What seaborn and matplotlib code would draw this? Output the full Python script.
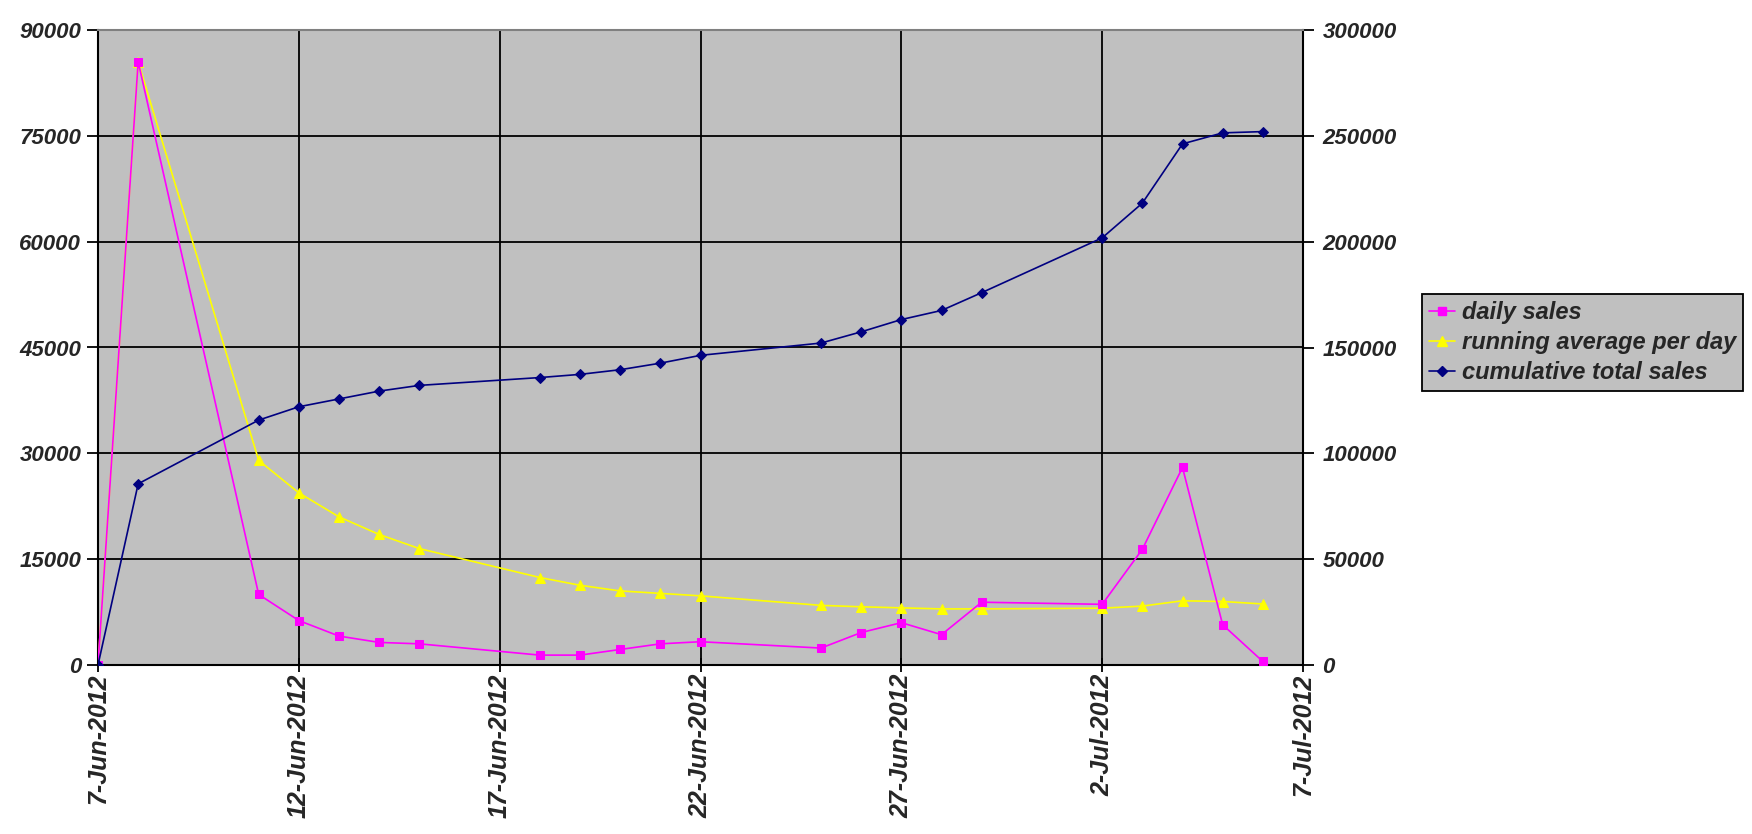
import matplotlib
matplotlib.use("Agg")
import matplotlib.pyplot as plt
import matplotlib.dates as mdates
from matplotlib.lines import Line2D
import seaborn as sns
import pandas as pd

dates = ["2012-06-07", "2012-06-08", "2012-06-11", "2012-06-12", "2012-06-13",
         "2012-06-14", "2012-06-15", "2012-06-18", "2012-06-19", "2012-06-20",
         "2012-06-21", "2012-06-22", "2012-06-25", "2012-06-26", "2012-06-27",
         "2012-06-28", "2012-06-29", "2012-07-02", "2012-07-03", "2012-07-04",
         "2012-07-05", "2012-07-06"]
daily_sales = [0, 85500, 10000, 6300, 4100, 3200, 3000, 1400, 1400, 2200,
               3000, 3300, 2400, 4600, 6000, 4300, 8900, 8600, 16400, 28000,
               5700, 500]
running_avg = [0, 85500, 29000, 24400, 21000, 18500, 16500, 12400, 11300, 10500,
               10150, 9800, 8450, 8250, 8100, 7950, 7950, 8050, 8350, 9100,
               9000, 8650]
cumulative = [0, 85600, 115700, 122000, 125700, 129400, 132100, 135800, 137300,
              139500, 142600, 146300, 152100, 157400, 163200, 167500, 175900,
              201800, 218200, 246200, 251400, 252000]
labels = ["daily sales", "running average per day", "cumulative total sales"]
left_ticks = [0, 15000, 30000, 45000, 60000, 75000, 90000]
right_ticks = [0, 50000, 100000, 150000, 200000, 250000, 300000]
x_ticks = ["2012-06-07", "2012-06-12", "2012-06-17", "2012-06-22",
           "2012-06-27", "2012-07-02", "2012-07-07"]

df = pd.DataFrame({"date": pd.to_datetime(dates), "daily": daily_sales,
                   "avg": running_avg, "cum": cumulative})

sns.set_theme(style="white")
plt.rcParams["font.family"] = ["Liberation Sans", "DejaVu Sans"]

fig = plt.figure(figsize=(17.52, 8.34), dpi=100)
ax = fig.add_axes([98/1752, 1-665/834, (1303-98)/1752, (665-30)/834])
ax.set_facecolor("#C0C0C0")
ax2 = ax.twinx()

PINK, YEL, NAVY = "#FF00FF", "#FFFF00", "#000080"
sns.lineplot(data=df, x="date", y="daily", ax=ax, color=PINK, marker="s",
             markersize=6, markeredgecolor=PINK, linewidth=1.2, zorder=5)
sns.lineplot(data=df, x="date", y="avg", ax=ax, color=YEL, marker="^",
             markersize=7, markeredgecolor=YEL, linewidth=1.2, zorder=4)
sns.lineplot(data=df, x="date", y="cum", ax=ax2, color=NAVY, marker="D",
             markersize=5, markeredgecolor=NAVY, linewidth=1.2, zorder=6)

xt = pd.to_datetime(x_ticks)
ax.set_xlim(xt[0], xt[-1])
ax.set_xticks(xt)
ax.xaxis.set_major_formatter(mdates.DateFormatter("%-d-%b-%Y"))
ax.set_ylim(0, 90000)
ax.set_yticks(left_ticks)
ax2.set_ylim(0, 300000)
ax2.set_yticks(right_ticks)
ax.set_xlabel("")
ax.set_ylabel("")
ax2.set_ylabel("")

ax.grid(True, color="black", linewidth=1.3)
ax.set_axisbelow(True)
for a in (ax, ax2):
    for s in a.spines.values():
        s.set_visible(False)
for a, side, col in ((ax, "left", "black"), (ax, "bottom", "black"),
                     (ax2, "right", "black"), (ax2, "top", "#808080")):
    a.spines[side].set_visible(True)
    a.spines[side].set_color(col)
    a.spines[side].set_linewidth(1.5)

ax.tick_params(axis="y", which="major", direction="out", length=8, width=1.3,
               color="black", pad=4, left=True)
ax2.tick_params(axis="y", which="major", direction="out", length=8, width=1.3,
                color="black", pad=6, right=True)
ax.tick_params(axis="x", which="major", direction="inout", length=10, width=1.3,
               color="black", pad=1, bottom=True)
for lab in ax.get_yticklabels() + ax2.get_yticklabels():
    lab.set_fontsize(16); lab.set_fontweight("bold"); lab.set_fontstyle("italic")
for lab in ax.get_xticklabels():
    lab.set_fontsize(18); lab.set_fontweight("bold"); lab.set_fontstyle("italic")
    lab.set_rotation(90)
    lab.set_va("top"); lab.set_ha("center")
ax.set_zorder(1); ax2.set_zorder(2)
ax2.patch.set_visible(False)
if ax.get_legend():
    ax.get_legend().remove()

handles = [
    Line2D([], [], color=PINK, marker="s", markersize=6, linewidth=1.2),
    Line2D([], [], color=YEL, marker="^", markersize=7, linewidth=1.2),
    Line2D([], [], color=NAVY, marker="D", markersize=5, linewidth=1.2),
]
leg = fig.legend(handles, labels, loc="upper left",
                 bbox_to_anchor=(1422/1752, 1-294/834),
                 frameon=True, fancybox=False, shadow=False,
                 facecolor="#C0C0C0", edgecolor="black", framealpha=1,
                 prop=dict(size=17, weight="bold", style="italic"),
                 handlelength=1.1, handletextpad=0.3, labelspacing=0.3,
                 borderpad=0.3, borderaxespad=0)
leg.get_frame().set_linewidth(1.3)

fig.savefig("out.png", dpi=100, facecolor="white")
